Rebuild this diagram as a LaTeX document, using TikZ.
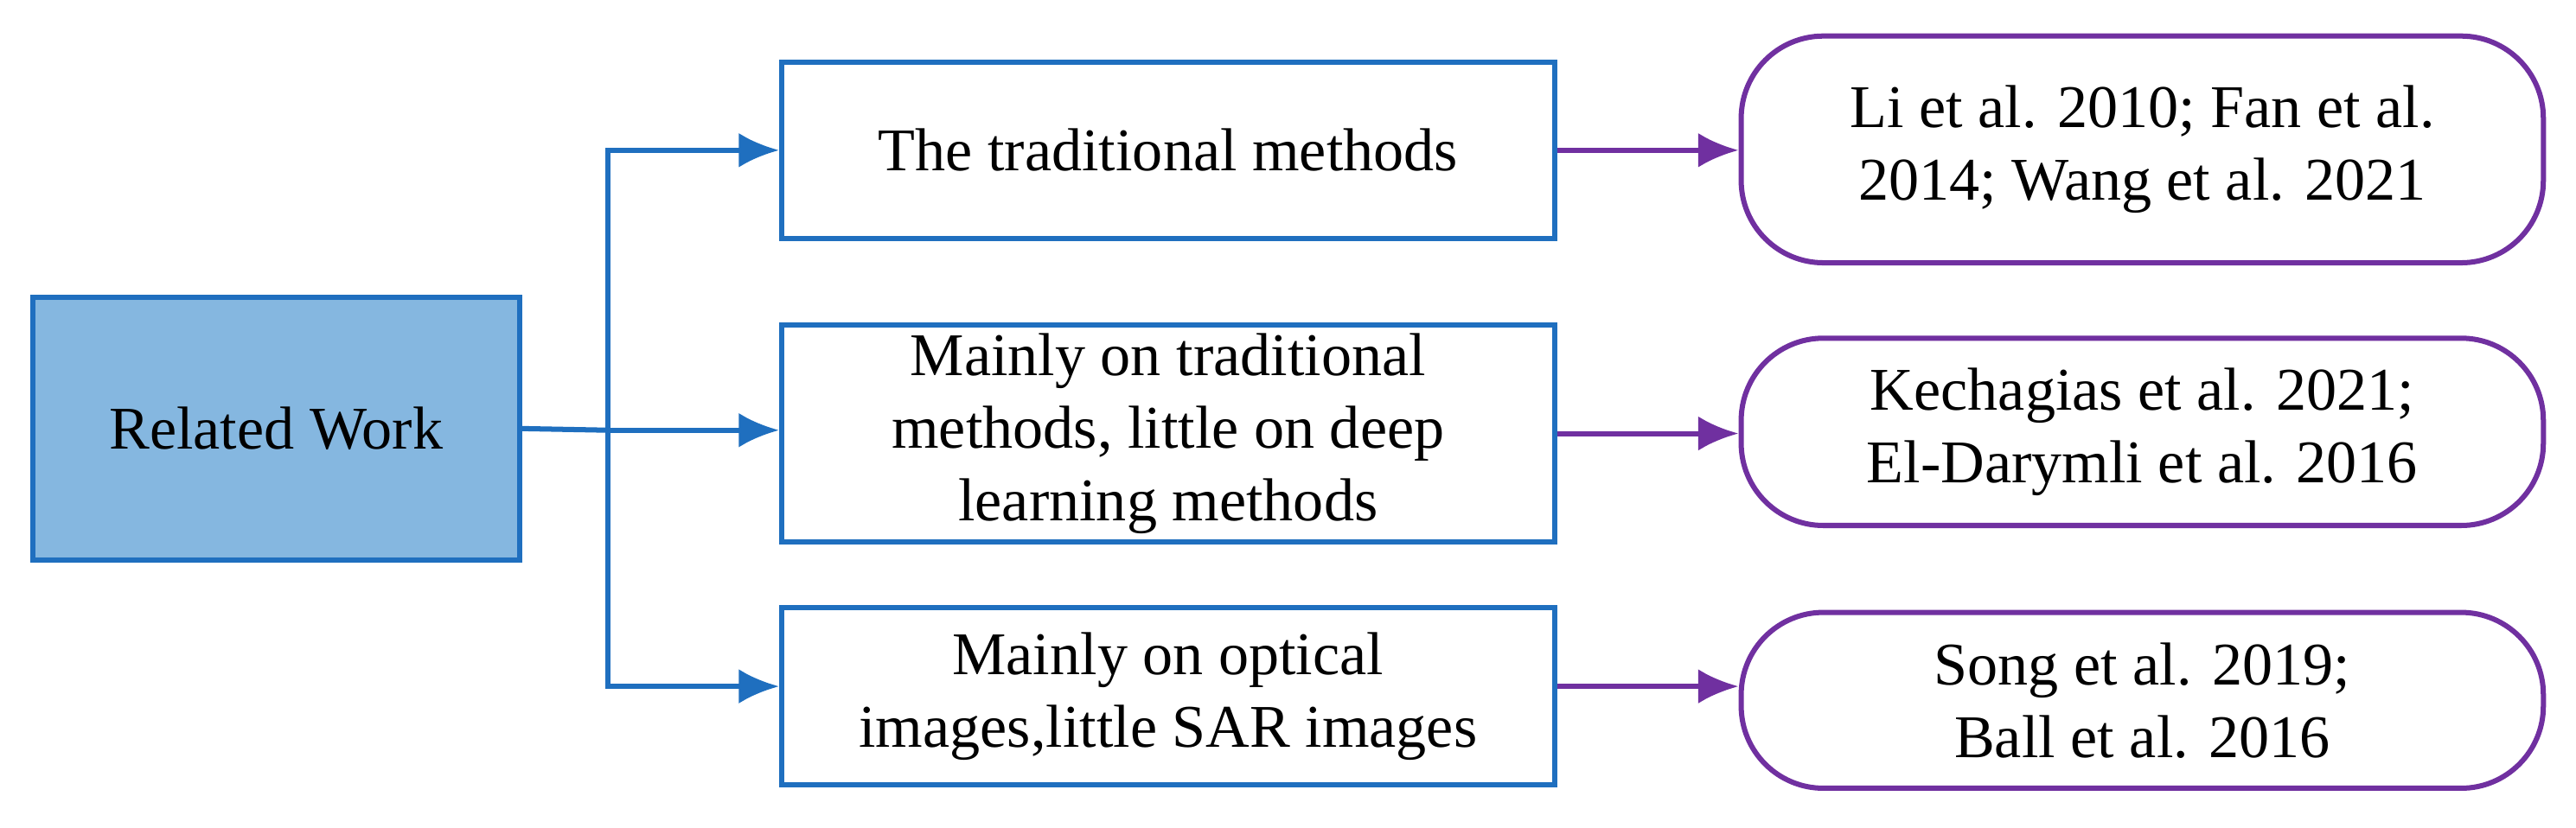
\documentclass[tikz,border=0pt]{standalone}
\usepackage{fontspec}
\setmainfont{Liberation Serif}
\usetikzlibrary{arrows.meta}
\definecolor{bl}{HTML}{1F6FBF}
\definecolor{blf}{HTML}{85B7E0}
\definecolor{pu}{HTML}{7030A0}
\begin{document}
\begin{tikzpicture}[x=0.01cm,y=-0.01cm,
  every node/.style={font=\fontsize{10.5}{12.6}\selectfont, align=center, inner sep=0pt},
  bbox/.style={draw=bl, line width=0.9pt, minimum width=4.7cm},
  rbox/.style={draw=pu, line width=0.9pt, rounded corners=0.5cm, minimum width=4.88cm},
  barr/.style={draw=bl, line width=0.9pt, -{Latex[length=7pt,width=6pt]}},
  parr/.style={draw=pu, line width=0.9pt, -{Latex[length=7pt,width=6pt]}}]
\useasboundingbox (0,0) rectangle (1568,504);
\node[draw=bl, fill=blf, line width=0.9pt, minimum width=2.96cm, minimum height=1.6cm] (rw) at (168,261) {Related Work};
\node[bbox, minimum height=1.07cm] (b1) at (711,91.5) {The traditional methods};
\node[bbox, minimum height=1.32cm] (b2) at (711,264) {Mainly on traditional\\methods, little on deep\\learning methods};
\node[bbox, minimum height=1.08cm] (b3) at (711,424) {Mainly on optical\\images,little SAR images};
\node[rbox, minimum height=1.38cm] (r1) at (1304,91) {Li et al. 2010; Fan et al.\\2014; Wang et al. 2021};
\node[rbox, minimum height=1.14cm] (r2) at (1304,263) {Kechagias et al. 2021;\\El-Darymli et al. 2016};
\node[rbox, minimum height=1.07cm] (r3) at (1304,426.5) {Song et al. 2019;\\Ball et al. 2016};
\coordinate (j) at (370,262);
\draw[bl, line width=0.9pt] (rw.east) -- (j);
\draw[barr] (j) |- (b1.west);
\draw[barr] (j) -- (b2.west |- j);
\draw[barr] (j) |- ([yshift=0.06cm]b3.west);
\draw[parr] (b1.east) -- (r1.west |- b1.east);
\draw[parr] (b2.east) -- (r2.west |- b2.east);
\draw[parr] ([yshift=0.06cm]b3.east) -- ([yshift=0.06cm]r3.west |- b3.east);
\end{tikzpicture}
\end{document}
